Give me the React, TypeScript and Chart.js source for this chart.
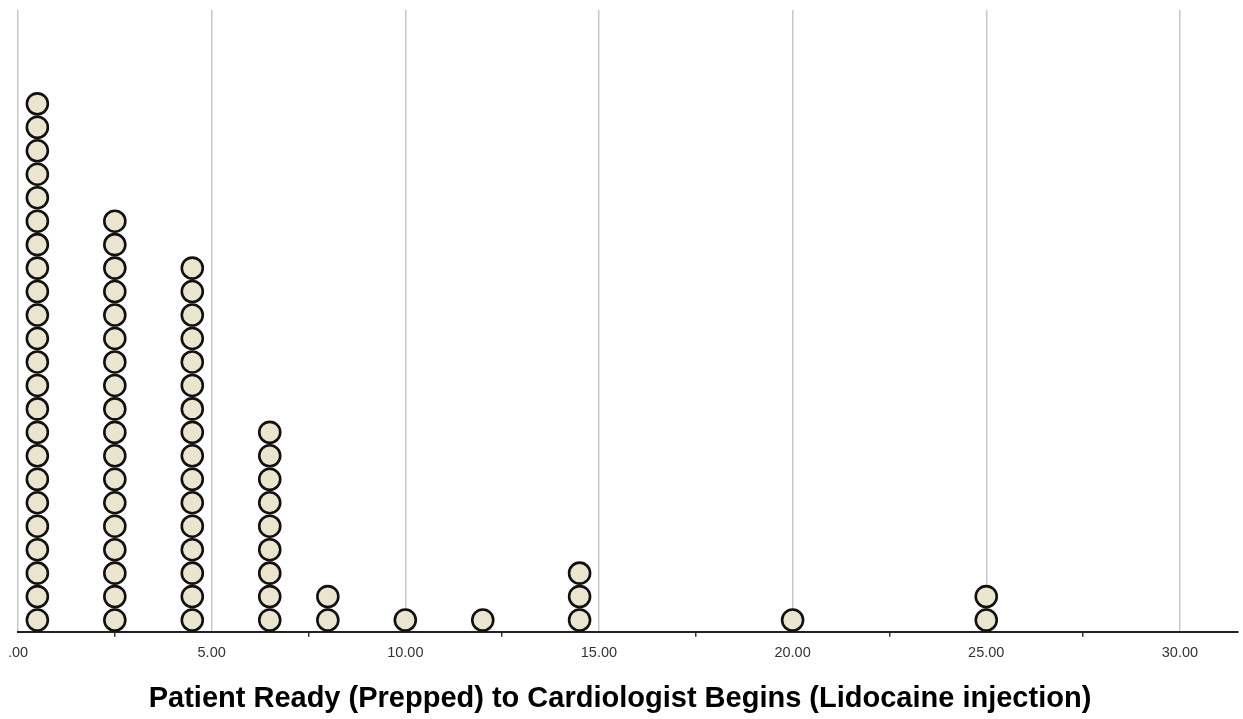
import React, { useEffect, useRef } from "react";
import { Chart, registerables } from "chart.js";

Chart.register(...registerables);

// Bin centres (minutes) and the number of dots stacked at each
const binValues = [0.5, 2.5, 4.5, 6.5, 8.0, 10.0, 12.0, 14.5, 20.0, 25.0];
const binCounts = [23, 18, 16, 9, 2, 1, 1, 3, 1, 2];
const tickLabels = [".00", "5.00", "10.00", "15.00", "20.00", "25.00", "30.00"];
const axisTitle = "Patient Ready (Prepped) to Cardiologist Begins (Lidocaine injection)";

const FONT = "'Liberation Sans', Arial, Helvetica, sans-serif";

const titlePlugin = {
  id: "bottomTitle",
  afterDraw(chart: any) {
    const ctx = chart.ctx;
    ctx.save();
    ctx.font = `bold 29px ${FONT}`;
    ctx.fillStyle = "#000000";
    ctx.textAlign = "center";
    ctx.textBaseline = "alphabetic";
    ctx.fillText(axisTitle, 620, 707);
    ctx.restore();
  },
};

export default function App() {
  const canvasRef = useRef<HTMLCanvasElement | null>(null);

  useEffect(() => {
    const canvas = canvasRef.current;
    if (!canvas) return;
    const points: { x: number; y: number }[] = [];
    binValues.forEach((v, i) => {
      for (let k = 0; k < binCounts[i]; k++) points.push({ x: v, y: k + 0.5 });
    });

    const isMajor = (v: number) => Math.abs(v / 5 - Math.round(v / 5)) < 1e-6;

    const chart = new Chart(canvas, {
      type: "scatter",
      data: {
        datasets: [
          {
            data: points,
            pointRadius: 10.5,
            pointHoverRadius: 10.5,
            pointBorderWidth: 2.6,
            pointBackgroundColor: "#EBE4CE",
            pointBorderColor: "#111111",
            clip: false,
          },
        ],
      },
      options: {
        animation: false,
        responsive: false,
        maintainAspectRatio: false,
        layout: { autoPadding: false, padding: { top: 10, left: 18, right: 5, bottom: 49.6 } },
        plugins: { legend: { display: false }, tooltip: { enabled: false } },
        scales: {
          x: {
            type: "linear",
            min: 0,
            max: 31.5,
            border: { display: true, color: "#222222", width: 2 },
            grid: {
              drawTicks: true,
              tickLength: 5,
              lineWidth: 1.5,
              color: (ctx: any) =>
                ctx.tick && isMajor(ctx.tick.value) ? "#C8C8C8" : "rgba(0,0,0,0)",
              tickColor: (ctx: any) =>
                ctx.tick && !isMajor(ctx.tick.value) ? "#333333" : "rgba(0,0,0,0)",
              tickWidth: 1.5,
            },
            ticks: {
              stepSize: 2.5,
              includeBounds: false,
              autoSkip: false,
              maxRotation: 0,
              padding: 7.6,
              color: "#333333",
              font: { family: FONT, size: 14.5 },
              callback: (value: any) => {
                const v = Number(value);
                if (!isMajor(v)) return "";
                return tickLabels[Math.round(v / 5)] ?? "";
              },
            },
          },
          y: {
            display: false,
            min: 0,
            max: 26.5,
          },
        },
      },
      plugins: [titlePlugin],
    });
    return () => chart.destroy();
  }, []);

  return (
    <div style={{ position: "fixed", left: 0, top: 0, width: 1243, height: 719, background: "#ffffff" }}>
      <canvas ref={canvasRef} width={1243} height={719} style={{ width: 1243, height: 719 }} />
    </div>
  );
}
